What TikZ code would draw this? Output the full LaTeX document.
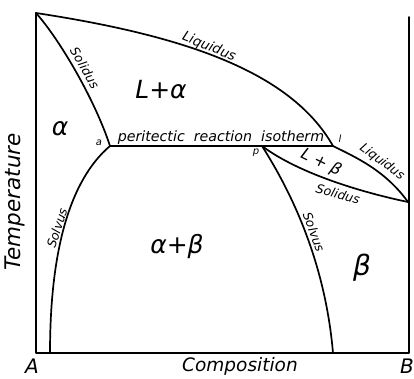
\documentclass[tikz,border=0pt]{standalone}
\usepackage{fontspec}
\setmainfont{DejaVu Sans}
\usepackage{tikz}

\begin{document}
\begin{tikzpicture}[x=1pt,y=-1pt,
    curve/.style={line width=1.7pt,line cap=round,line join=round},
    lbl/.style={font=\fontsize{12.5}{12.5}\selectfont\itshape,inner sep=0pt},
    tiny/.style={font=\fontsize{10}{10}\selectfont\itshape,inner sep=0pt},
    phase/.style={font=\fontsize{25}{25}\selectfont\itshape,inner sep=0pt},
    axlbl/.style={font=\fontsize{20}{20}\selectfont\itshape,inner sep=0pt}]
  \useasboundingbox (0,0) rectangle (414,379);
  % key points
  \coordinate (TA) at (36,13);
  \coordinate (TB) at (408,202);
  \coordinate (a) at (110,146);
  \coordinate (p) at (262,146);
  \coordinate (l) at (333,146);
  % axes
  \draw[curve] (TA) -- (36,353) -- (409,353) -- (409,17);
  % liquidus
  \draw[curve] (TA) .. controls (180,35) and (290,70) .. (l);
  \draw[curve] (l) .. controls (355,157) and (385,170) .. (TB);
  % solidus
  \draw[curve] (TA) .. controls (60,40) and (95,100) .. (a);
  \draw[curve] (p) .. controls (298,173) and (360,192) .. (TB);
  % peritectic reaction isotherm
  \draw[curve] (a) -- (l);
  % solvus
  \draw[curve] (a) .. controls (70,180) and (50,250) .. (50,353);
  \draw[curve] (p) .. controls (290,190) and (325,260) .. (333,353);
  % line labels
  \node[lbl,font=\fontsize{13.5}{13.5}\selectfont\itshape,rotate=-22] (liqA) at (209,47) {Liquidus};
  \node[lbl,rotate=-60] (solA) at (85,68) {Solidus};
  \node[lbl,rotate=-37] (liqB) at (382,162) {Liquidus};
  \node[lbl,rotate=-16] (solB) at (338,194) {Solidus};
  \node[lbl,rotate=72] (svA) at (57,228) {Solvus};
  \node[lbl,rotate=-70] (svB) at (314,232) {Solvus};
  \node[lbl,font=\fontsize{14.2}{14.2}\selectfont\itshape] (iso) at (221,138) {peritectic\ \ reaction\ \ isotherm};
  \node[tiny] (la) at (99,143) {a};
  \node[tiny] (lp) at (256,153) {p};
  \node[tiny] (ll) at (340,139) {l};
  % phase fields
  \node[phase] (Lalpha) at (161,90) {L+α};
  \node[phase] (alpha) at (60,129) {α};
  \node[lbl,font=\fontsize{16}{16}\selectfont\itshape,rotate=-26] (Lbeta) at (321,163) {L + β};
  \node[phase] (alphabeta) at (177,247) {α+β};
  \node[phase,font=\fontsize{28}{28}\selectfont\itshape] (beta) at (362,268) {β};
  % axis labels
  \node[axlbl,font=\fontsize{21.5}{21.5}\selectfont\itshape,rotate=90] (temp) at (15,202) {Temperature};
  \node[axlbl] (A) at (32,366) {A};
  \node[axlbl,font=\fontsize{18.5}{18.5}\selectfont\itshape] (comp) at (240,366) {Composition};
  \node[axlbl] (B) at (407,366) {B};
\end{tikzpicture}
\end{document}
